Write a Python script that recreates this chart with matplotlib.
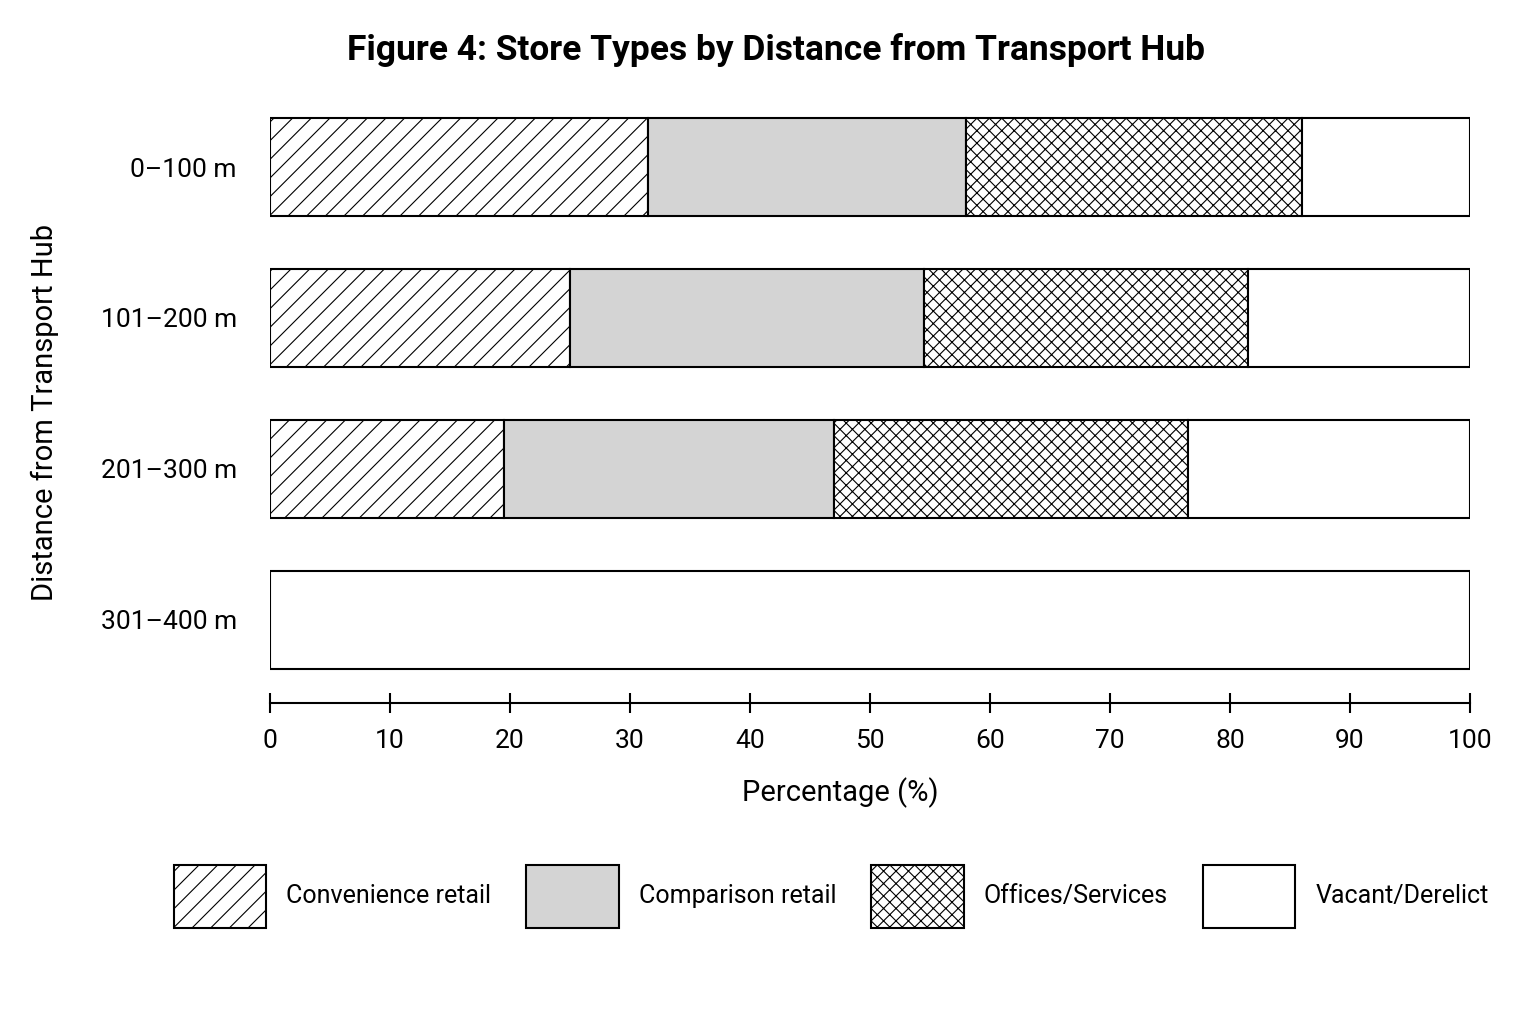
import numpy as np
import matplotlib.pyplot as plt
from matplotlib.patches import Patch

DPI = 112
k = 100 / DPI  # keep pixel sizes while the hatch grows with dpi

plt.rcParams['font.family'] = ['Roboto', 'DejaVu Sans']
plt.rcParams['hatch.linewidth'] = 0.8 * k

distances = ["0–100 m", "101–200 m", "201–300 m", "301–400 m"]
categories = ["Convenience retail", "Comparison retail", "Offices/Services", "Vacant/Derelict"]
convenience = [31.5, 25.0, 19.5, 0.0]
comparison = [26.5, 29.5, 27.5, 0.0]
offices = [28.0, 27.0, 29.5, 0.0]
vacant = [14.0, 18.5, 23.5, 100.0]

series = [convenience, comparison, offices, vacant]
faces = ["white", "#d4d4d4", "white", "white"]
hatches = ["//", None, "xxx", None]

fig = plt.figure(figsize=(1536 / DPI, 1024 / DPI), dpi=DPI)
ax = fig.add_axes([0.1758, 0.3135, 0.78125, 0.575])

y = np.arange(len(distances))
left = np.zeros(len(distances))
for vals, fc, h in zip(series, faces, hatches):
    ax.barh(y, vals, left=left, height=0.645, color=fc, edgecolor="black",
            linewidth=1.5 * k, hatch=h)
    left += np.array(vals)

ax.set_xlim(0, 100)
ax.set_ylim(3.55, -0.35)
ax.set_yticks(y)
ax.set_yticklabels(distances, fontsize=19 * k)
ax.set_xticks(np.arange(0, 101, 10))
ax.tick_params(axis="x", direction="inout", length=14 * k, width=1.5 * k,
               labelsize=19 * k, pad=12 * k)
ax.tick_params(axis="y", length=0, pad=24 * k)
for s in ["top", "right", "left"]:
    ax.spines[s].set_visible(False)
ax.spines["bottom"].set_linewidth(1.5 * k)

ax.set_xlabel("Percentage (%)", fontsize=21 * k)
ax.xaxis.set_label_coords(0.475, -0.126)
ax.set_ylabel("Distance from Transport Hub", fontsize=21 * k)
ax.yaxis.set_label_coords(-0.176, 0.494)
fig.suptitle("Figure 4: Store Types by Distance from Transport Hub",
             fontsize=25.5 * k, fontweight="bold", x=0.505, y=0.968)

handles = [Patch(facecolor=fc, edgecolor="black", linewidth=1.5 * k, hatch=h)
           for fc, h in zip(faces, hatches)]
fig.legend(handles, categories, loc="center", bbox_to_anchor=(0.541, 0.125),
           ncol=4, frameon=False, fontsize=18 * k, handlelength=3.7, handleheight=3.5,
           handletextpad=0.8, columnspacing=1.4)

fig.savefig("out.png", dpi=DPI)
